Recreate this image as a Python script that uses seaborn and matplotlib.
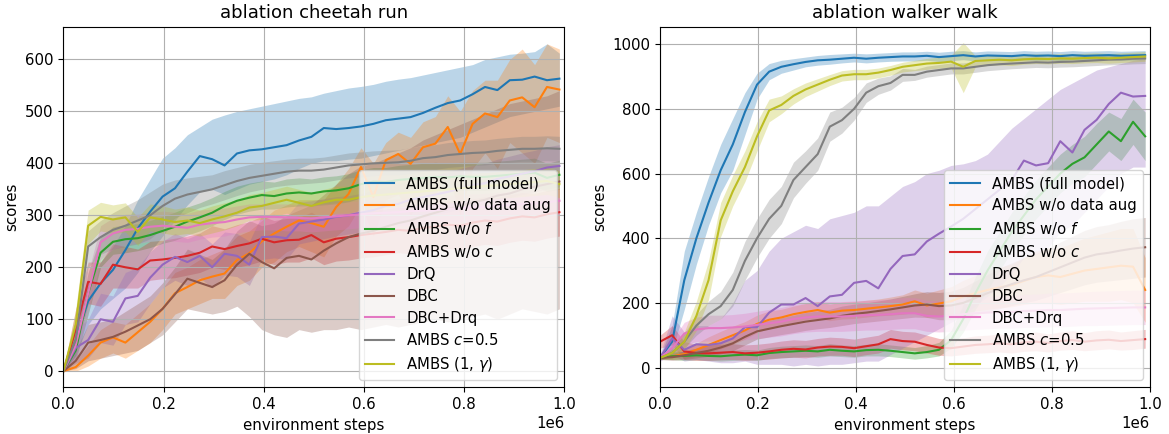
import numpy as np
import pandas as pd
import matplotlib
matplotlib.use("Agg")
import matplotlib.pyplot as plt
import seaborn as sns

# evaluation steps (41 evaluations over 1e6 environment steps)
steps = np.linspace(0, 0.99e6, 41)

methods = ["AMBS (full model)", "AMBS w/o data aug", "AMBS w/o $f$", "AMBS w/o $c$",
           "DrQ", "DBC", "DBC+Drq", "AMBS $c$=0.5", "AMBS (1, $\\gamma$)"]

# ---------------- cheetah run ----------------
c_full = [0, 60, 135, 169, 195, 233, 275, 307, 336, 352, 384, 414, 408, 396, 419, 425, 427, 431, 435, 444, 451,
          468, 466, 468, 471, 476, 483, 486, 489, 497, 507, 516, 521, 533, 547, 541, 560, 561, 567, 560, 563]
c_full_lo = [0, 30, 90, 120, 140, 160, 190, 230, 260, 290, 320, 345, 350, 340, 350, 360, 365, 370, 378, 390, 400,
             405, 405, 408, 410, 415, 420, 425, 430, 435, 440, 445, 450, 460, 470, 480, 490, 495, 500, 505, 510]
c_full_hi = [5, 100, 170, 210, 240, 280, 330, 370, 410, 430, 455, 470, 485, 493, 500, 505, 510, 515, 520, 525, 528,
             535, 540, 545, 548, 552, 558, 562, 565, 570, 575, 580, 585, 590, 600, 605, 610, 612, 615, 630, 612]

c_noaug = [0, 8, 30, 55, 65, 55, 75, 95, 120, 150, 162, 175, 182, 188, 214, 227, 250, 265, 278, 290, 285,
           278, 316, 341, 393, 335, 406, 418, 399, 431, 438, 470, 418, 476, 496, 489, 521, 527, 508, 547, 542]
c_noaug_lo = [0, 0, 10, 25, 35, 25, 40, 55, 80, 110, 120, 130, 140, 140, 165, 175, 200, 210, 230, 240, 230,
              220, 260, 280, 320, 260, 330, 340, 300, 340, 340, 380, 300, 390, 420, 390, 440, 420, 400, 450, 440]
c_noaug_hi = [5, 20, 50, 80, 95, 90, 110, 130, 160, 190, 200, 215, 225, 235, 260, 270, 290, 310, 320, 330, 330,
              330, 360, 390, 430, 400, 440, 460, 450, 480, 490, 530, 500, 540, 560, 560, 600, 620, 590, 630, 620]

c_nof = [0, 40, 150, 228, 249, 254, 256, 262, 270, 278, 288, 296, 305, 318, 328, 334, 339, 337, 342, 344, 342,
         346, 348, 352, 360, 365, 364, 368, 370, 372, 374, 373, 375, 374, 374, 376, 378, 380, 382, 372, 378]
c_nof_lo = [0, 20, 110, 200, 225, 228, 232, 238, 246, 252, 262, 270, 280, 292, 302, 308, 312, 312, 316, 318, 318,
            320, 322, 326, 334, 338, 338, 342, 344, 346, 348, 346, 348, 348, 348, 350, 352, 354, 356, 346, 350]
c_nof_hi = [2, 70, 190, 258, 278, 282, 284, 290, 298, 306, 316, 324, 334, 346, 356, 362, 366, 364, 370, 372, 370,
            374, 376, 380, 388, 392, 392, 396, 398, 400, 402, 400, 402, 402, 402, 404, 406, 408, 410, 400, 406]

c_noc = [0, 80, 172, 168, 205, 200, 196, 213, 215, 218, 222, 228, 240, 235, 241, 246, 255, 248, 252, 253, 262,
         248, 255, 258, 262, 265, 268, 272, 270, 276, 278, 282, 280, 286, 290, 288, 294, 298, 296, 302, 306]
c_noc_lo = [0, 40, 130, 125, 160, 160, 160, 175, 178, 180, 185, 190, 200, 196, 200, 205, 212, 205, 210, 210, 218,
            205, 212, 214, 218, 220, 224, 228, 226, 230, 232, 236, 234, 240, 244, 242, 248, 252, 250, 256, 260]
c_noc_hi = [2, 120, 210, 210, 245, 240, 235, 250, 252, 256, 260, 266, 280, 274, 282, 288, 298, 290, 294, 296, 306,
            292, 298, 302, 306, 310, 312, 316, 314, 320, 322, 328, 326, 332, 336, 334, 340, 344, 342, 348, 352]

c_drq = [0, 45, 60, 100, 95, 140, 145, 180, 205, 220, 210, 222, 200, 226, 222, 205, 258, 259, 256, 284, 288,
         292, 297, 300, 305, 310, 318, 322, 330, 335, 340, 345, 352, 358, 362, 370, 375, 380, 385, 392, 395]
c_drq_lo = [0, 15, 25, 55, 50, 90, 95, 130, 160, 175, 165, 180, 160, 185, 182, 165, 215, 218, 215, 245, 250,
            255, 260, 264, 268, 274, 280, 285, 292, 296, 302, 306, 312, 318, 322, 330, 334, 340, 345, 350, 355]
c_drq_hi = [2, 80, 100, 150, 145, 190, 200, 230, 250, 265, 255, 265, 245, 268, 265, 250, 300, 302, 298, 325, 328,
            332, 336, 338, 342, 348, 355, 360, 368, 372, 378, 384, 390, 396, 400, 408, 414, 420, 425, 432, 436]

c_dbc = [0, 20, 55, 60, 66, 76, 88, 100, 120, 148, 178, 170, 162, 175, 205, 226, 210, 198, 218, 222, 215,
         232, 246, 258, 265, 270, 278, 285, 290, 298, 305, 312, 318, 325, 330, 338, 342, 350, 355, 360, 365]
c_dbc_lo = [0, 5, 20, 25, 30, 35, 40, 55, 70, 95, 120, 115, 110, 115, 125, 105, 80, 70, 65, 80, 75,
            80, 80, 85, 80, 85, 90, 85, 90, 95, 100, 95, 100, 105, 110, 100, 110, 120, 115, 110, 120]
c_dbc_hi = [2, 40, 90, 95, 100, 115, 130, 145, 170, 200, 235, 225, 215, 235, 270, 290, 280, 285, 300, 310, 320,
            340, 360, 380, 395, 400, 410, 420, 430, 445, 455, 465, 475, 485, 495, 505, 515, 520, 525, 530, 540]

c_dbcdrq = [0, 50, 150, 248, 265, 272, 274, 278, 280, 278, 276, 282, 285, 287, 292, 296, 297, 297, 296, 295, 294,
            296, 298, 300, 302, 304, 305, 306, 308, 309, 310, 312, 314, 315, 316, 318, 320, 322, 323, 325, 328]
c_dbcdrq_lo = [0, 25, 110, 215, 235, 242, 246, 250, 252, 250, 248, 254, 258, 260, 266, 270, 272, 272, 270, 270, 268,
               270, 272, 274, 276, 278, 280, 280, 282, 283, 284, 286, 288, 289, 290, 292, 294, 296, 297, 299, 302]
c_dbcdrq_hi = [2, 80, 190, 280, 295, 302, 302, 306, 308, 306, 304, 310, 312, 314, 318, 322, 322, 322, 322, 320, 320,
               322, 324, 326, 328, 330, 330, 332, 334, 335, 336, 338, 340, 341, 342, 344, 346, 348, 349, 351, 354]

c_half = [0, 60, 240, 258, 272, 280, 290, 300, 318, 332, 340, 345, 350, 358, 366, 372, 376, 380, 384, 386, 386,
          388, 392, 396, 398, 400, 401, 402, 405, 410, 412, 416, 418, 420, 421, 424, 426, 428, 428, 429, 428]
c_half_lo = [0, 30, 200, 225, 235, 240, 245, 255, 275, 295, 305, 315, 322, 330, 338, 345, 350, 355, 358, 360, 362,
             364, 368, 372, 374, 376, 378, 378, 380, 385, 388, 392, 394, 396, 397, 400, 402, 404, 404, 405, 404]
c_half_hi = [2, 100, 270, 290, 305, 318, 330, 345, 360, 368, 372, 375, 378, 386, 392, 398, 402, 405, 408, 410, 410,
             412, 416, 420, 422, 424, 425, 426, 430, 434, 436, 440, 442, 444, 445, 448, 450, 452, 452, 453, 452]

c_onegamma = [0, 90, 280, 297, 292, 296, 268, 296, 292, 287, 290, 285, 292, 298, 305, 315, 318, 324, 330, 324, 318,
              325, 330, 330, 335, 338, 340, 342, 344, 346, 348, 350, 352, 355, 356, 358, 360, 362, 364, 366, 360]
c_onegamma_lo = [0, 60, 245, 270, 265, 268, 242, 270, 266, 262, 265, 260, 266, 272, 280, 290, 292, 298, 304, 298, 292,
                 300, 304, 304, 310, 312, 314, 316, 318, 320, 322, 324, 326, 329, 330, 332, 334, 336, 338, 340, 334]
c_onegamma_hi = [2, 120, 310, 325, 320, 324, 296, 322, 318, 312, 316, 310, 318, 324, 330, 340, 344, 350, 356, 350, 344,
                 350, 356, 356, 360, 364, 366, 368, 370, 372, 374, 376, 378, 381, 382, 384, 386, 388, 390, 392, 386]

# ---------------- walker walk ----------------
w_full = [30, 80, 270, 400, 510, 610, 690, 790, 875, 915, 930, 938, 945, 950, 952, 955, 958, 955, 958, 960, 962,
          962, 964, 960, 963, 966, 962, 965, 964, 963, 966, 964, 965, 963, 966, 964, 965, 966, 964, 965, 966]
w_full_lo = [25, 50, 180, 320, 440, 540, 610, 720, 830, 890, 910, 920, 930, 935, 938, 942, 945, 942, 945, 947, 948,
             948, 950, 946, 949, 952, 948, 951, 950, 949, 952, 950, 951, 949, 952, 950, 951, 952, 950, 951, 952]
w_full_hi = [35, 130, 360, 480, 590, 690, 770, 850, 910, 940, 950, 955, 960, 965, 968, 970, 972, 970, 972, 974, 976,
             976, 978, 975, 978, 980, 976, 979, 978, 977, 980, 978, 979, 977, 980, 978, 979, 980, 978, 979, 980]

w_noaug = [30, 35, 42, 55, 70, 85, 100, 115, 135, 148, 155, 165, 172, 178, 170, 176, 178, 182, 186, 190, 195,
           205, 192, 198, 205, 220, 230, 240, 248, 255, 268, 280, 285, 280, 290, 300, 305, 310, 315, 312, 240]
w_noaug_lo = [25, 25, 28, 35, 45, 58, 72, 88, 108, 122, 130, 140, 148, 152, 145, 150, 152, 156, 160, 162, 165,
              170, 155, 158, 160, 170, 175, 180, 185, 188, 195, 200, 200, 195, 200, 205, 205, 205, 210, 200, 140]
w_noaug_hi = [35, 48, 58, 75, 95, 112, 128, 142, 162, 175, 180, 190, 198, 204, 196, 202, 204, 208, 212, 218, 225,
              240, 230, 240, 250, 270, 285, 300, 310, 320, 340, 360, 370, 370, 385, 400, 410, 420, 430, 430, 340]

w_nof = [30, 35, 36, 38, 36, 35, 38, 40, 38, 45, 48, 50, 52, 50, 55, 52, 50, 54, 55, 52, 48,
         44, 48, 55, 85, 150, 230, 300, 360, 420, 470, 520, 560, 600, 630, 650, 690, 730, 700, 760, 715]
w_nof_lo = [25, 25, 22, 24, 22, 20, 22, 24, 22, 28, 30, 32, 34, 32, 36, 34, 32, 36, 36, 34, 30,
            26, 30, 36, 60, 110, 180, 240, 300, 360, 410, 460, 500, 540, 570, 590, 630, 670, 640, 690, 640]
w_nof_hi = [35, 48, 50, 54, 52, 50, 54, 56, 54, 62, 66, 68, 70, 68, 74, 70, 68, 72, 74, 70, 66,
            62, 68, 78, 115, 195, 280, 360, 420, 480, 530, 580, 620, 660, 690, 715, 755, 790, 770, 830, 790]

w_noc = [80, 100, 50, 45, 44, 46, 48, 44, 46, 50, 55, 58, 56, 62, 65, 64, 60, 66, 72, 88, 82,
         80, 70, 62, 60, 65, 70, 72, 75, 72, 78, 80, 76, 82, 85, 80, 84, 86, 82, 85, 88]
w_noc_lo = [60, 70, 25, 22, 22, 24, 25, 22, 24, 26, 30, 32, 30, 36, 38, 38, 34, 40, 45, 60, 55,
            52, 45, 38, 36, 40, 44, 46, 48, 45, 50, 52, 48, 54, 56, 52, 55, 58, 54, 56, 60]
w_noc_hi = [100, 130, 80, 72, 70, 72, 74, 70, 72, 76, 82, 86, 84, 90, 94, 92, 88, 94, 100, 118, 112,
            110, 100, 90, 88, 92, 98, 100, 104, 100, 106, 110, 104, 110, 114, 108, 114, 116, 110, 114, 118]

w_drq = [30, 90, 55, 72, 70, 75, 90, 125, 125, 170, 195, 195, 215, 190, 220, 225, 262, 268, 245, 305, 345,
         350, 390, 414, 436, 460, 490, 520, 550, 580, 640, 625, 632, 700, 665, 735, 766, 815, 850, 838, 840]
w_drq_lo = [20, 40, 20, 25, 20, 15, 15, 20, 10, 10, 10, 5, 10, 5, 10, 10, 15, 20, 20, 40, 60,
            80, 100, 120, 140, 160, 190, 220, 250, 290, 340, 350, 370, 420, 440, 480, 520, 560, 600, 620, 620]
w_drq_hi = [40, 160, 110, 130, 130, 150, 200, 270, 300, 360, 400, 420, 440, 430, 460, 470, 480, 500, 500, 530, 560,
            575, 600, 610, 625, 630, 640, 660, 700, 740, 770, 800, 830, 860, 880, 900, 920, 930, 940, 950, 955]

w_dbc = [30, 32, 38, 45, 52, 62, 75, 95, 112, 120, 128, 135, 142, 147, 152, 160, 166, 170, 175, 180, 186,
         192, 195, 190, 192, 200, 215, 230, 245, 258, 270, 280, 295, 310, 325, 340, 350, 355, 362, 368, 372]
w_dbc_lo = [25, 22, 25, 30, 35, 42, 52, 70, 88, 95, 102, 108, 115, 120, 124, 130, 136, 140, 144, 148, 152,
            156, 155, 148, 148, 152, 162, 172, 182, 192, 200, 208, 220, 232, 244, 256, 264, 268, 272, 276, 280]
w_dbc_hi = [35, 45, 52, 60, 70, 82, 98, 120, 138, 146, 154, 162, 170, 175, 180, 190, 196, 200, 206, 212, 220,
            228, 235, 232, 236, 248, 268, 288, 308, 324, 340, 352, 370, 388, 406, 424, 436, 442, 452, 460, 464]

w_dbcdrq = [30, 60, 105, 118, 122, 122, 124, 127, 132, 137, 142, 150, 155, 158, 158, 158, 160, 162, 163, 165, 168,
            168, 160, 158, 160, 165, 168, 170, 172, 172, 175, 176, 178, 178, 180, 182, 183, 184, 185, 186, 186]
w_dbcdrq_lo = [25, 35, 70, 80, 82, 82, 84, 86, 90, 94, 98, 105, 110, 112, 112, 112, 114, 116, 116, 118, 120,
               120, 112, 110, 112, 116, 118, 120, 122, 122, 124, 125, 126, 126, 128, 130, 130, 131, 132, 133, 133]
w_dbcdrq_hi = [35, 85, 140, 156, 162, 162, 164, 168, 174, 180, 186, 195, 200, 204, 204, 204, 206, 208, 210, 212, 216,
               216, 208, 206, 208, 214, 218, 220, 222, 222, 226, 227, 230, 230, 232, 234, 236, 237, 238, 239, 239]

w_half = [30, 45, 80, 130, 165, 190, 240, 330, 400, 460, 500, 580, 620, 660, 745, 765, 800, 850, 870, 880, 905,
          905, 915, 920, 925, 925, 930, 935, 938, 940, 942, 944, 943, 945, 946, 948, 950, 952, 953, 955, 956]
w_half_lo = [25, 35, 60, 100, 130, 150, 190, 270, 340, 400, 445, 525, 570, 610, 700, 725, 765, 820, 845, 858, 885,
             888, 898, 903, 908, 908, 913, 918, 921, 924, 926, 928, 927, 929, 930, 932, 934, 936, 937, 939, 940]
w_half_hi = [35, 58, 105, 165, 205, 235, 295, 390, 460, 520, 560, 635, 670, 710, 790, 805, 835, 880, 895, 902, 925,
             922, 932, 937, 942, 942, 947, 952, 955, 956, 958, 960, 959, 961, 962, 964, 966, 968, 969, 971, 972]

w_onegamma = [30, 45, 80, 160, 270, 455, 545, 620, 715, 795, 812, 840, 860, 875, 890, 903, 907, 907, 912, 920, 930,
              935, 940, 942, 946, 930, 948, 950, 952, 950, 953, 955, 954, 956, 955, 957, 958, 956, 958, 960, 962]
w_onegamma_lo = [25, 35, 55, 115, 210, 405, 500, 575, 670, 760, 785, 815, 838, 855, 872, 886, 890, 890, 896, 904, 914,
                 918, 922, 926, 926, 850, 930, 934, 936, 934, 938, 940, 939, 941, 940, 942, 943, 941, 943, 945, 947]
w_onegamma_hi = [35, 58, 110, 205, 330, 510, 595, 670, 760, 830, 840, 862, 880, 893, 906, 918, 922, 922, 926, 934, 944,
                 950, 956, 960, 966, 1005, 964, 966, 968, 966, 968, 970, 969, 971, 970, 972, 973, 971, 973, 975, 977]

cheetah = [(c_full, c_full_lo, c_full_hi), (c_noaug, c_noaug_lo, c_noaug_hi), (c_nof, c_nof_lo, c_nof_hi),
           (c_noc, c_noc_lo, c_noc_hi), (c_drq, c_drq_lo, c_drq_hi), (c_dbc, c_dbc_lo, c_dbc_hi),
           (c_dbcdrq, c_dbcdrq_lo, c_dbcdrq_hi), (c_half, c_half_lo, c_half_hi),
           (c_onegamma, c_onegamma_lo, c_onegamma_hi)]
walker = [(w_full, w_full_lo, w_full_hi), (w_noaug, w_noaug_lo, w_noaug_hi), (w_nof, w_nof_lo, w_nof_hi),
          (w_noc, w_noc_lo, w_noc_hi), (w_drq, w_drq_lo, w_drq_hi), (w_dbc, w_dbc_lo, w_dbc_hi),
          (w_dbcdrq, w_dbcdrq_lo, w_dbcdrq_hi), (w_half, w_half_lo, w_half_hi),
          (w_onegamma, w_onegamma_lo, w_onegamma_hi)]

colors = sns.color_palette("tab10", 9)

plt.rcParams.update({
    "xtick.labelsize": 10.8,
    "ytick.labelsize": 10.8,
    "axes.labelsize": 10.8,
    "axes.titlesize": 13,
})


def draw(ax, runs, title, ylim):
    frames = []
    for name, (mean, lo, hi) in zip(methods, runs):
        frames.append(pd.DataFrame({"step": steps, "score": mean, "lo": lo, "hi": hi, "method": name}))
    df = pd.concat(frames, ignore_index=True)
    for name, color in zip(methods, colors):
        sub = df[df["method"] == name]
        ax.fill_between(sub["step"], sub["lo"], sub["hi"], color=color, alpha=0.3, linewidth=0)
        sns.lineplot(data=sub, x="step", y="score", color=color, label=name, ax=ax, linewidth=1.5)
    ax.set_xlim(0, 1e6)
    ax.set_ylim(*ylim)
    ax.grid(True)
    ax.set_title(title)
    ax.set_xlabel("environment steps")
    ax.set_ylabel("scores")
    ax.xaxis.get_offset_text().set_fontsize(10.8)
    ax.legend(loc="lower right", fontsize=10.7, labelspacing=0.45)


fig = plt.figure(figsize=(11.69, 4.34), dpi=100)
ax1 = fig.add_axes([0.0542, 0.1076, 0.4286, 0.8309])
ax2 = fig.add_axes([0.5646, 0.1076, 0.4192, 0.8309])
draw(ax1, cheetah, "ablation cheetah run", (-31, 663))
draw(ax2, walker, "ablation walker walk", (-61, 1054))
ax2.set_yticks([0, 200, 400, 600, 800, 1000])
fig.savefig("out.png", dpi=100)
